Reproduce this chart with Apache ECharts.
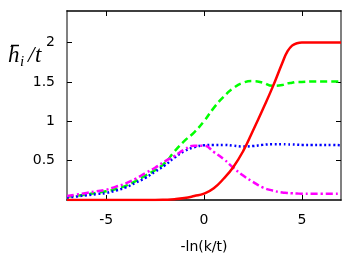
<!DOCTYPE html>
<html><head><meta charset="utf-8">
<script src="https://cdn.jsdelivr.net/npm/echarts@6/dist/echarts.min.js"></script>
<style>html,body{margin:0;padding:0;background:#fff}#c{width:354px;height:259px}</style>
</head><body><div id="c"></div>
<script>
var xs = [-7,-6.5,-6,-5.5,-5,-4.5,-4,-3.5,-3,-2.5,-2,-1.5,-1,-0.5,0,0.5,1,1.5,2,2.5,3,3.5,4,4.25,4.5,4.75,5,5.5,6,6.5,7];
var redVals = [0,0,0,0,0,0,0,0,0,0,0.003,0.01,0.025,0.05,0.08,0.15,0.27,0.42,0.62,0.88,1.15,1.43,1.74,1.88,1.96,1.99,2.0,2.0,2.0,2.0,2.0];
var greenVals = [0.04,0.055,0.07,0.09,0.11,0.14,0.18,0.24,0.31,0.38,0.47,0.62,0.75,0.86,1.0,1.17,1.31,1.42,1.49,1.51,1.49,1.45,1.46,1.48,1.49,1.5,1.5,1.505,1.505,1.505,1.505];
var blueVals = [0.03,0.045,0.06,0.075,0.09,0.12,0.16,0.22,0.28,0.36,0.44,0.54,0.62,0.67,0.695,0.70,0.70,0.69,0.68,0.685,0.70,0.708,0.708,0.706,0.705,0.702,0.70,0.70,0.70,0.70,0.695];
var magentaVals = [0.05,0.07,0.09,0.11,0.13,0.17,0.21,0.27,0.34,0.41,0.49,0.56,0.64,0.69,0.69,0.61,0.52,0.41,0.31,0.23,0.16,0.12,0.095,0.09,0.085,0.082,0.08,0.08,0.08,0.08,0.08];
var xTicks = [-5,0,5];
var yTicks = [0.5,1,1.5,2];
var xTitle = '-ln(k/t)';

function pairs(v){ return xs.map(function(x,i){ return [x, v[i]]; }); }
var chart = echarts.init(document.getElementById('c'), null, {renderer:'canvas'});
var font = 'DejaVu Sans';
var tickStyle = {show:true, inside:true, length:5, lineStyle:{color:'#000', width:1}};
chart.setOption({
  animation:false,
  grid:{left:67, right:13, top:11, bottom:58, containLabel:false},
  xAxis:[{
    type:'value', min:-7, max:7, position:'bottom',
    axisLine:{show:true, onZero:false, lineStyle:{color:'#000', width:1.5}},
    axisTick:Object.assign({customValues:xTicks}, tickStyle),
    axisLabel:{customValues:xTicks, color:'#000', fontFamily:font, fontSize:14, margin:13},
    splitLine:{show:false},
    name:xTitle, nameLocation:'middle', nameGap:40,
    nameTextStyle:{color:'#000', fontFamily:font, fontSize:14}
  },{
    type:'value', min:-7, max:7, position:'top',
    axisLine:{show:true, onZero:false, lineStyle:{color:'#000', width:1.5}},
    axisTick:Object.assign({customValues:xTicks}, tickStyle),
    axisLabel:{show:false}, splitLine:{show:false}
  }],
  yAxis:[{
    type:'value', min:0, max:2.4, position:'left',
    axisLine:{show:true, onZero:false, lineStyle:{color:'#808080', width:2}},
    axisTick:Object.assign({customValues:yTicks}, tickStyle),
    axisLabel:{customValues:yTicks, color:'#000', fontFamily:font, fontSize:14, margin:12},
    splitLine:{show:false}
  },{
    type:'value', min:0, max:2.4, position:'right',
    axisLine:{show:true, onZero:false, lineStyle:{color:'#808080', width:2}},
    axisTick:Object.assign({customValues:yTicks}, tickStyle),
    axisLabel:{show:false}, splitLine:{show:false}
  }],
  graphic:[
    {type:'text', left:8, top:44, style:{text:'h', font:'italic 23px "Liberation Serif"', fill:'#000'}},
    {type:'line', shape:{x1:11, y1:45.5, x2:19, y2:45.5}, style:{stroke:'#000', lineWidth:1.5}},
    {type:'text', left:20, top:55, style:{text:'i', font:'italic 15px "Liberation Serif"', fill:'#000'}},
    {type:'text', left:28, top:44, style:{text:'/', font:'italic 23px "Liberation Serif"', fill:'#000'}},
    {type:'text', left:35, top:44, style:{text:'t', font:'italic 23px "Liberation Serif"', fill:'#000'}}
  ],
  series:[
    {type:'line', data:pairs(greenVals), smooth:true, showSymbol:false, lineStyle:{color:'#00ff00', width:2.5, type:[7,4]}},
    {type:'line', data:pairs(blueVals), smooth:true, showSymbol:false, lineStyle:{color:'#0000ff', width:2.5, type:[2,2.5]}},
    {type:'line', data:pairs(magentaVals), smooth:true, showSymbol:false, lineStyle:{color:'#ff00ff', width:2.5, type:[7,3,2,3]}},
    {type:'line', data:pairs(redVals), smooth:true, showSymbol:false, lineStyle:{color:'#ff0000', width:2.5}}
  ]
});
</script></body></html>
